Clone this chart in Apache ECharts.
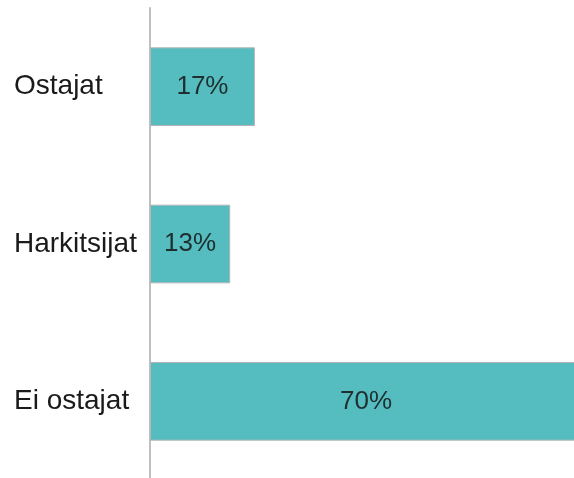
<!DOCTYPE html>
<html>
<head>
<meta charset="utf-8">
<script src="https://cdn.jsdelivr.net/npm/echarts@6/dist/echarts.min.js"></script>
<style>
  html, body { margin: 0; padding: 0; background: #fff; }
  #chart { width: 574px; height: 478px; }
</style>
</head>
<body>
<div id="chart"></div>
<script>
  // data
  var categories = ['Ostajat', 'Harkitsijat', 'Ei ostajat'];
  var values = [17, 13, 70];

  var chart = echarts.init(document.getElementById('chart'));
  var option = {
    animation: false,
    grid: {
      left: 150,
      top: 8,
      width: 432,
      height: 472,
      outerBoundsMode: 'none'
    },
    xAxis: {
      type: 'value',
      min: 0,
      max: 70,
      show: false
    },
    yAxis: {
      type: 'category',
      inverse: true,
      data: categories,
      axisLine: { show: true, lineStyle: { color: '#bfbfbf', width: 2 } },
      axisTick: { show: false },
      axisLabel: {
        align: 'left',
        margin: 136,
        color: '#1a1a1a',
        fontSize: 28,
        fontFamily: 'Liberation Sans, Arial, sans-serif'
      }
    },
    series: [
      {
        type: 'bar',
        data: values,
        barWidth: '50%',
        itemStyle: {
          color: '#55bdbf',
          borderColor: '#b5b5b5',
          borderWidth: 1
        },
        label: {
          show: true,
          position: 'inside',
          formatter: '{c}%',
          color: '#1f2f30',
          fontSize: 26,
          fontFamily: 'Liberation Sans, Arial, sans-serif'
        }
      }
    ]
  };
  chart.setOption(option);
</script>
</body>
</html>
